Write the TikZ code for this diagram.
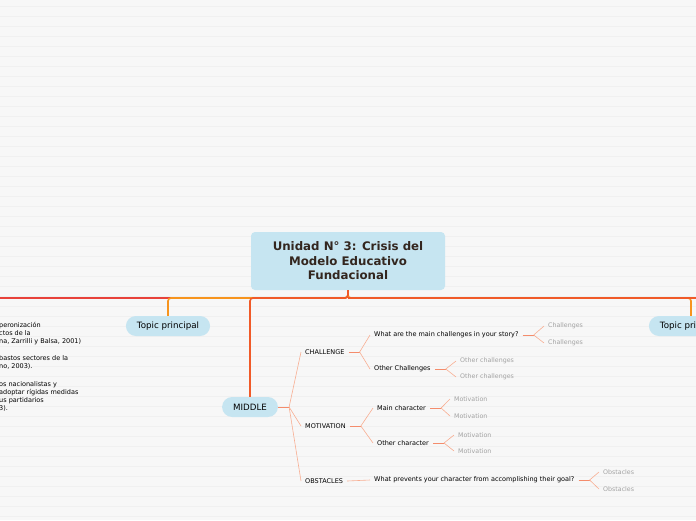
\documentclass[tikz,border=0pt]{standalone}
\usepackage{fontspec}
\setmainfont{DejaVu Sans}
\usetikzlibrary{positioning}
\definecolor{bgfill}{HTML}{F7F7F7}
\definecolor{bgline}{HTML}{F0F0F0}
\definecolor{boxblue}{HTML}{C6E5F1}
\definecolor{titletext}{HTML}{33261F}
\definecolor{linered}{HTML}{E8423A}
\definecolor{lineorange}{HTML}{F7941D}
\definecolor{linedeep}{HTML}{F05A28}
\definecolor{twigcol}{HTML}{F8AE92}
\definecolor{stemcol}{HTML}{F48C6C}
\definecolor{leafcol}{HTML}{A3A3A3}
\tikzset{
  pill/.style={fill=boxblue, rounded corners=10pt, minimum height=20pt, inner xsep=11pt, font=\fontsize{8.7}{10}\selectfont},
  item/.style={anchor=west, inner sep=0pt, font=\fontsize{6.5}{7.5}\selectfont},
  leaf/.style={item, text=leafcol, font=\fontsize{6.3}{7.5}\selectfont},
  stem/.style={stemcol, line width=0.9pt},
  twig/.style={twigcol, line width=0.6pt},
  trunk/.style={line width=1.6pt, rounded corners=3pt}
}
\begin{document}
\begin{tikzpicture}[x=1pt, y=-1pt]
  \clip (0,0) rectangle (696,520);
  \fill[bgfill] (0,0) rectangle (696,520);
  \foreach \y in {6,16,...,516}
    \draw[bgline, line width=1pt] (0,\y) -- (696,\y);

  % central topic
  \node[fill=boxblue, rounded corners=4pt, minimum width=194pt, minimum height=58pt,
        align=center, text=titletext, font=\bfseries\fontsize{11.8}{14.5}\selectfont]
        (title) at (348,261) {Unidad N° 3: Crisis del\\Modelo Educativo\\Fundacional};
  \coordinate (bus) at (348,298);
  \coordinate (leftend) at (-20,298);
  \coordinate (rightend) at (720,298);

  % main topics
  \node[pill] (tpl) at (168,326) {Topic principal};
  \node[pill] (tpr) at (691,326) {Topic principal};
  \node[pill] (middle) at (250,407) {MIDDLE};

  % main branches
  \draw[trunk, linered] (title.south) -- (bus) -- (leftend);
  \draw[trunk, lineorange] (title.south) -- (bus) -| (tpl.north);
  \draw[trunk, lineorange] (title.south) -- (bus) -| (tpr.north);
  \draw[trunk, linedeep] (title.south) -- (bus) -| (middle.north);
  \draw[trunk, linedeep] (bus) -- (rightend);

  % text of the left branch
  \node[item, align=left, font=\fontsize{6.5}{8}\selectfont] (notea) at (-1,334) {peronización\\ctos de la\\na, Zarrilli y Balsa, 2001)};
  \node[item, align=left, font=\fontsize{6.5}{8}\selectfont] (noteb) at (-1,362) {bastos sectores de la\\no, 2003).};
  \node[item, align=left, font=\fontsize{6.5}{8}\selectfont] (notec) at (-1,396) {os nacionalistas y\\adoptar rígidas medidas\\us partidarios\\3).};

  % subtopics of MIDDLE
  \node[item] (challenge) at (305,352) {CHALLENGE};
  \node[item] (motivation) at (305,426) {MOTIVATION};
  \node[item] (obstacles) at (305,481) {OBSTACLES};
  \draw[stem] (middle.east) -- ++(11,0) coordinate (mfork);
  \foreach \n in {challenge, motivation, obstacles}
    \draw[twig] (mfork) -- ([xshift=-4pt]\n.west);

  % CHALLENGE
  \node[item] (mainch) at (374,335) {What are the main challenges in your story?};
  \node[item] (otherch) at (374,369) {Other Challenges};
  \draw[stem] ([xshift=4pt]challenge.east) -- ++(11,0) coordinate (cfork);
  \draw[twig] (cfork) -- ([xshift=-4pt]mainch.west);
  \draw[twig] (cfork) -- ([xshift=-4pt]otherch.west);

  \node[leaf] (cha) at (548,326) {Challenges};
  \node[leaf] (chb) at (548,343) {Challenges};
  \draw[stem] ([xshift=4pt]mainch.east) -- ++(11,0) coordinate (mcfork);
  \draw[twig] (mcfork) -- ([xshift=-4pt]cha.west);
  \draw[twig] (mcfork) -- ([xshift=-4pt]chb.west);

  \node[leaf] (oca) at (460,361) {Other challenges};
  \node[leaf] (ocb) at (460,377) {Other challenges};
  \draw[stem] ([xshift=4pt]otherch.east) -- ++(11,0) coordinate (ocfork);
  \draw[twig] (ocfork) -- ([xshift=-4pt]oca.west);
  \draw[twig] (ocfork) -- ([xshift=-4pt]ocb.west);

  % MOTIVATION
  \node[item] (mainchar) at (377,408) {Main character};
  \node[item] (otherchar) at (377,443) {Other character};
  \draw[stem] ([xshift=4pt]motivation.east) -- ++(11,0) coordinate (mofork);
  \draw[twig] (mofork) -- ([xshift=-4pt]mainchar.west);
  \draw[twig] (mofork) -- ([xshift=-4pt]otherchar.west);

  \node[leaf] (mota) at (454,399) {Motivation};
  \node[leaf] (motb) at (454,416) {Motivation};
  \draw[stem] ([xshift=4pt]mainchar.east) -- ++(11,0) coordinate (mmfork);
  \draw[twig] (mmfork) -- ([xshift=-4pt]mota.west);
  \draw[twig] (mmfork) -- ([xshift=-4pt]motb.west);

  \node[leaf] (motc) at (458,435) {Motivation};
  \node[leaf] (motd) at (458,451) {Motivation};
  \draw[stem] ([xshift=4pt]otherchar.east) -- ++(11,0) coordinate (omfork);
  \draw[twig] (omfork) -- ([xshift=-4pt]motc.west);
  \draw[twig] (omfork) -- ([xshift=-4pt]motd.west);

  % OBSTACLES
  \node[item] (prevent) at (374,480) {What prevents your character from accomplishing their goal?};
  \draw[twig] ([xshift=4pt]obstacles.east) -- ([xshift=-4pt]prevent.west);

  \node[leaf] (oba) at (603,472) {Obstacles};
  \node[leaf] (obb) at (603,489) {Obstacles};
  \draw[stem] ([xshift=4pt]prevent.east) -- ++(11,0) coordinate (pfork);
  \draw[twig] (pfork) -- ([xshift=-4pt]oba.west);
  \draw[twig] (pfork) -- ([xshift=-4pt]obb.west);
\end{tikzpicture}
\end{document}
